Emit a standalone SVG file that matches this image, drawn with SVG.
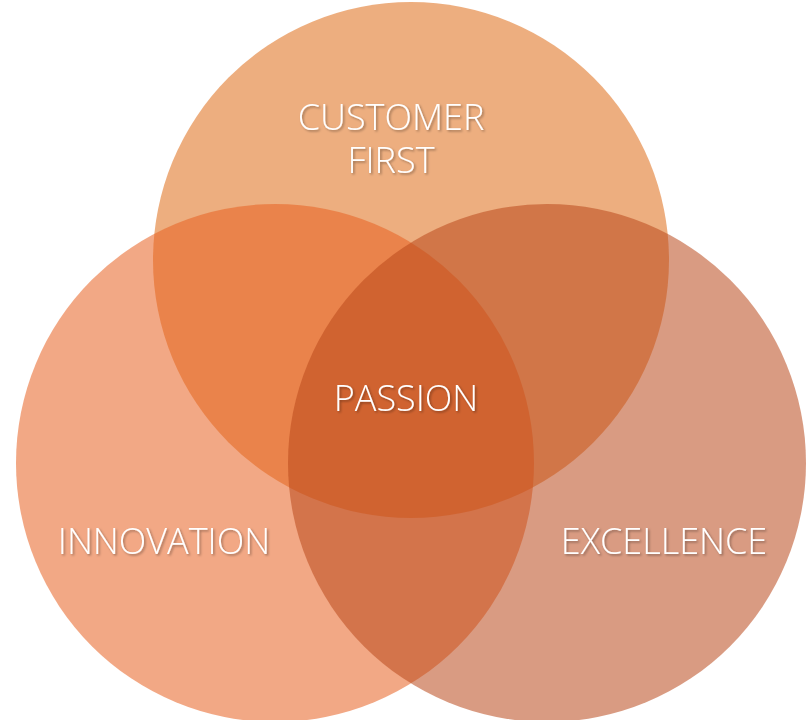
<svg xmlns="http://www.w3.org/2000/svg" width="808" height="720" viewBox="0 0 808 720">
  <defs>
    <filter id="txtShadow" x="-10%" y="-30%" width="120%" height="160%">
      <feDropShadow dx="1.5" dy="1.5" stdDeviation="1" flood-color="#000" flood-opacity="0.35"/>
    </filter>
  </defs>
  <style>
    .circle { fill-opacity: 0.55; stroke: none; }
    .label { font-family: "Open Sans", "Noto Sans", "Liberation Sans", sans-serif; font-weight: 300; font-size: 36px; fill: #ffffff; text-anchor: middle; filter: url(#txtShadow); }
  </style>
  <rect width="808" height="720" fill="#ffffff"/>
  <g id="connectors"/>
  <g id="customer-first">
    <circle class="circle" cx="411" cy="260" r="258" fill="#DE6C15"/>
  </g>
  <g id="innovation">
    <circle class="circle" cx="275" cy="463" r="259" fill="#E76120"/>
  </g>
  <g id="excellence">
    <circle class="circle" cx="547" cy="463" r="259" fill="#BA491C"/>
  </g>
  <g id="labels">
    <text class="label" x="391" y="130">CUSTOMER<tspan x="391" dy="43">FIRST</tspan></text>
    <text class="label" x="406" y="411">PASSION</text>
    <text class="label" x="164" y="554">INNOVATION</text>
    <text class="label" x="664" y="554">EXCELLENCE</text>
  </g>
</svg>
